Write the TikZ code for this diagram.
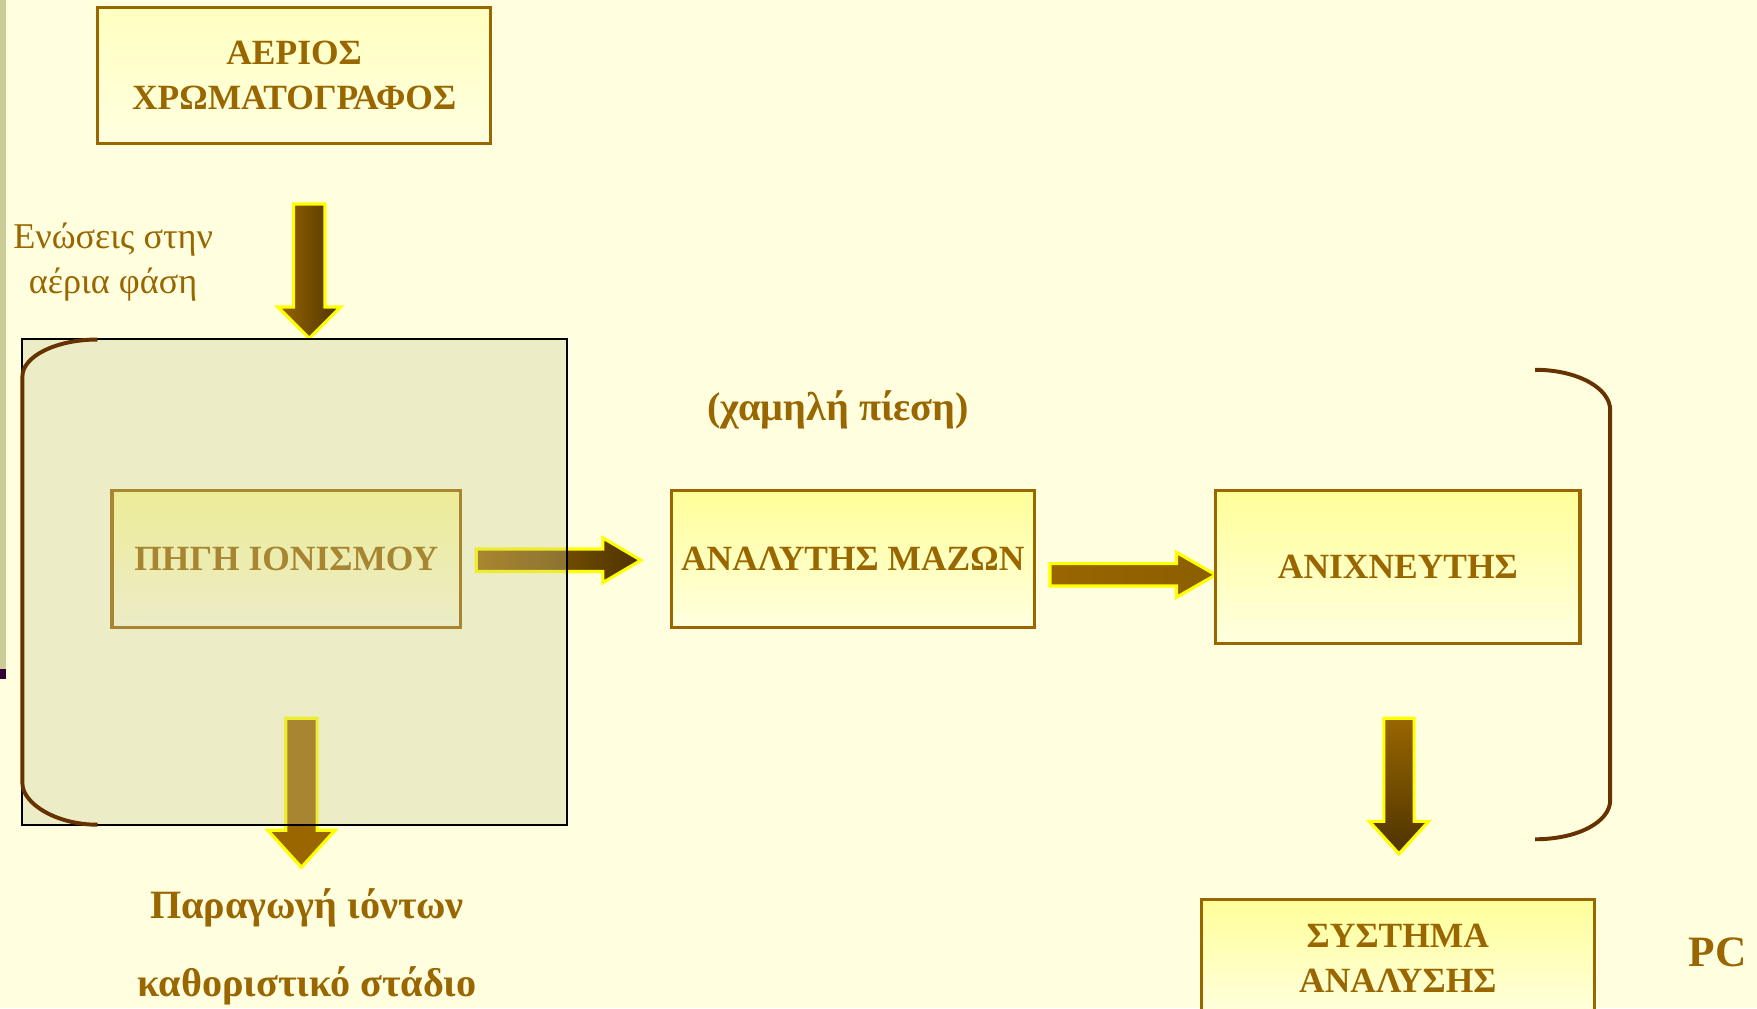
\documentclass[tikz,border=0pt]{standalone}
\usepackage{fontspec}
\setmainfont{Liberation Serif}
\definecolor{pagebg}{HTML}{FFFFE0}
\definecolor{textbrown}{HTML}{996600}
\definecolor{darkbrown}{HTML}{4D3300}
\definecolor{headbrown}{HTML}{8B5E00}
\definecolor{bracketbrown}{HTML}{663300}
\definecolor{boxtop}{HTML}{FFFF99}
\definecolor{gctop}{HTML}{FFFFC0}
\definecolor{stripolive}{HTML}{CCCC99}
\definecolor{chamberfill}{HTML}{C8C896}
\definecolor{edgeyellow}{HTML}{FFFF00}
\definecolor{markpurple}{HTML}{330033}
\newcommand{\boxfont}{\fontsize{9pt}{11.4pt}\selectfont\bfseries}
\newcommand{\notefont}{\fontsize{9.2pt}{11.4pt}\selectfont}
\newcommand{\bignotefont}{\fontsize{10.2pt}{20pt}\selectfont\bfseries}

\begin{document}
\begin{tikzpicture}[x=0.01cm, y=-0.01cm,
    unitbox/.style={draw=textbrown, line width=0.8pt, top color=boxtop, bottom color=pagebg,
      text=textbrown, font=\boxfont, align=center, inner sep=0pt},
    blockarrow/.style={draw=edgeyellow, line width=0.8pt, line join=miter},
    bracket/.style={draw=bracketbrown, line width=1pt},
    label/.style={text=textbrown, align=center, inner sep=0pt}]
  % page
  \fill[pagebg] (0,0) rectangle (1568,900);
  \useasboundingbox (0,0) rectangle (1568,900);
  \fill[stripolive] (0,0) rectangle (5,600);
  \fill[markpurple] (0,597) rectangle (5,606);

  % gas chromatograph
  \node[unitbox, top color=gctop, minimum width=3.51cm, minimum height=1.21cm] (gc) at (262.5,67.5)
    {ΑΕΡΙΟΣ\\ΧΡΩΜΑΤΟΓΡΑΦΟΣ};
  \draw[blockarrow, left color=textbrown, right color=darkbrown]
    (262,182) -- (290,182) -- (290,274) -- (304,274) -- (276,302) -- (248,274) -- (262,274) -- cycle;
  \node[label, font=\notefont] (gasphase) at (101,234) {Ενώσεις στην\\αέρια φάση};

  % ion source inside the chamber
  \node[unitbox, minimum width=3.11cm, minimum height=1.22cm] (source) at (255.5,499) {ΠΗΓΗ ΙΟΝΙΣΜΟΥ};
  \draw[blockarrow, left color=textbrown, right color=darkbrown]
    (425,490) -- (538,490) -- (538,480) -- (572,500) -- (538,520) -- (538,510) -- (425,510) -- cycle;
  \draw[blockarrow, fill=textbrown]
    (255,641) -- (283,641) -- (283,741) -- (299,741) -- (269,774) -- (239,741) -- (255,741) -- cycle;
  \node[draw=black, line width=0.5pt, fill=chamberfill, fill opacity=0.33,
    minimum width=4.86cm, minimum height=4.33cm] (chamber) at (263,519.5) {};
  \draw[bracket] (87,303) .. controls (50,303) and (20,318) .. (20,336) -- (20,699)
    .. controls (20,717) and (50,736) .. (87,736);
  \node[label, font=\bignotefont] (ions) at (274,845) {Παραγωγή ιόντων\\καθοριστικό στάδιο};

  % analyser and detector
  \node[label, font=\fontsize{10.2pt}{12pt}\selectfont\bfseries] (pressure) at (748,366) {(χαμηλή πίεση)};
  \node[unitbox, minimum width=3.24cm, minimum height=1.22cm] (analyser) at (761,499) {ΑΝΑΛΥΤΗΣ ΜΑΖΩΝ};
  \draw[blockarrow, left color=textbrown, middle color=darkbrown, right color=headbrown]
    (937,503) -- (1050,503) -- (1050,493) -- (1085,513) -- (1050,533) -- (1050,523) -- (937,523) -- cycle;
  \node[unitbox, minimum width=3.25cm, minimum height=1.36cm] (detector) at (1247.5,506) {ΑΝΙΧΝΕΥΤΗΣ};
  \draw[blockarrow, top color=textbrown, bottom color=darkbrown]
    (1235,641) -- (1262,641) -- (1262,733) -- (1275,733) -- (1248.5,762) -- (1222,733) -- (1235,733) -- cycle;
  \draw[bracket] (1370,330) .. controls (1407,330) and (1437,346) .. (1437,366) -- (1437,714)
    .. controls (1437,734) and (1407,749) .. (1370,749);

  % data system
  \node[unitbox, minimum width=3.51cm, minimum height=1.04cm] (datasys) at (1247.5,855) {ΣΥΣΤΗΜΑ\\ΑΝΑΛΥΣΗΣ};
  \node[label, font=\fontsize{11pt}{13pt}\selectfont\bfseries] (pc) at (1533,850) {PC};
\end{tikzpicture}
\end{document}
